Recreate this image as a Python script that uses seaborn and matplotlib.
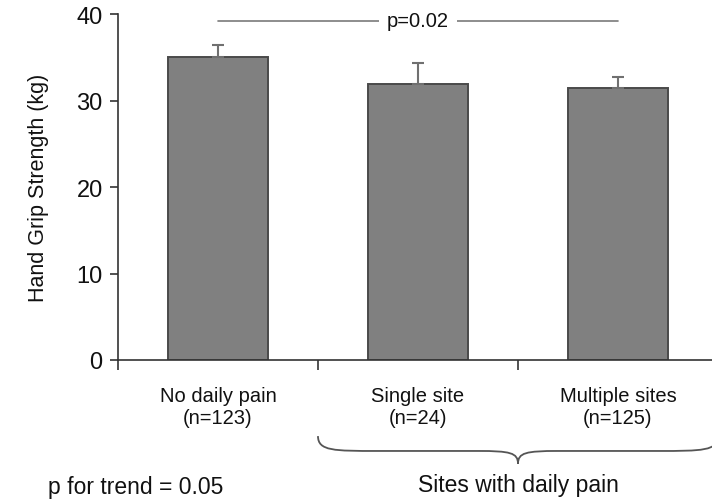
import matplotlib
matplotlib.use("Agg")
import matplotlib.pyplot as plt
from matplotlib.path import Path
from matplotlib.patches import PathPatch
import seaborn as sns
import pandas as pd
import numpy as np

# Data
groups = ["No daily pain", "Single site", "Multiple sites"]
group_n = [123, 24, 125]
grip_mean = [35.0, 31.9, 31.4]
grip_se = [1.4, 2.4, 1.3]
y_ticks = [0, 10, 20, 30, 40]
overall_p = "p=0.02"
trend_p = "p for trend = 0.05"
brace_label = "Sites with daily pain"

sns.set_style("ticks")
plt.rcParams["font.family"] = ["Liberation Sans", "DejaVu Sans"]

df = pd.DataFrame({"group": groups, "grip": grip_mean})

fig = plt.figure(figsize=(7.12, 5.02), dpi=100)
ax = fig.add_axes([0.1657, 0.2809, 0.8343, 0.6891])

sns.barplot(data=df, x="group", y="grip", color="#808080", saturation=1,
            width=0.5, edgecolor="#4a4a4a", linewidth=1.4, errorbar=None, ax=ax)

# upper-only standard error bars
xpos = np.arange(len(groups))
ax.errorbar(xpos, grip_mean, yerr=[np.zeros(len(grip_se)), grip_se], fmt="none",
            ecolor="#707070", elinewidth=1.5, capsize=4.5, capthick=1.5, zorder=3)

ax.set_xlim(-0.5, 2.47)
ax.set_ylim(0, 40)
ax.set_yticks(y_ticks)
ax.set_yticklabels([str(t) for t in y_ticks], fontsize=17, color="#111111")
ax.tick_params(axis="y", length=6, width=1.2, color="#333333", pad=5)

# category labels at bar centres, tick marks at category boundaries
ax.set_xticks(xpos)
ax.set_xticklabels([f"{g}\n(n={n})" for g, n in zip(groups, group_n)],
                   fontsize=14.5, linespacing=1.2, color="#111111")
ax.tick_params(axis="x", which="major", length=0, pad=19)
ax.set_xticks([-0.5, 0.5, 1.5], minor=True)
ax.tick_params(axis="x", which="minor", length=7, width=1.2, color="#333333")

ax.set_xlabel("")
ax.set_ylabel("Hand Grip Strength (kg)", fontsize=15.5, labelpad=20, color="#111111")

sns.despine(ax=ax, top=True, right=True)
for side in ("left", "bottom"):
    ax.spines[side].set_linewidth(1.2)
    ax.spines[side].set_color("#333333")

# significance line across all groups
sig_y = 39.2
ax.plot([0, 2], [sig_y, sig_y], color="#7a7a7a", lw=1.2, clip_on=False, zorder=2)
ax.text(1.0, sig_y, overall_p, ha="center", va="center", fontsize=14.5,
        color="#111111",
        bbox=dict(facecolor="white", edgecolor="none", pad=6), zorder=4)

# curly brace grouping the two pain categories
trans = ax.get_xaxis_transform()
x0, x1 = 0.5, 2.5
xm = (x0 + x1) / 2
yt, yb, ytip = -0.22, -0.263, -0.30
verts = [(x0, yt),
         (x0, yb), (x0 + 0.08, yb), (x0 + 0.3, yb),
         (xm - 0.2, yb),
         (xm - 0.04, yb), (xm, yb - 0.005), (xm, ytip),
         (xm, yb - 0.005), (xm + 0.04, yb), (xm + 0.2, yb),
         (x1 - 0.3, yb),
         (x1 - 0.08, yb), (x1, yb), (x1, yt)]
codes = [Path.MOVETO,
         Path.CURVE4, Path.CURVE4, Path.CURVE4,
         Path.LINETO,
         Path.CURVE4, Path.CURVE4, Path.CURVE4,
         Path.CURVE4, Path.CURVE4, Path.CURVE4,
         Path.LINETO,
         Path.CURVE4, Path.CURVE4, Path.CURVE4]
brace = PathPatch(Path(verts, codes), transform=trans, fill=False,
                  edgecolor="#555555", lw=1.3, clip_on=False)
ax.add_patch(brace)

ax.text(xm, -0.36, brace_label, transform=trans, ha="center", va="center",
        fontsize=16.5, color="#111111")
fig.text(48 / 712, 1 - 488 / 502, trend_p, ha="left", va="center", fontsize=16.5,
         color="#111111")

fig.savefig("out.png", dpi=100, facecolor="white")
